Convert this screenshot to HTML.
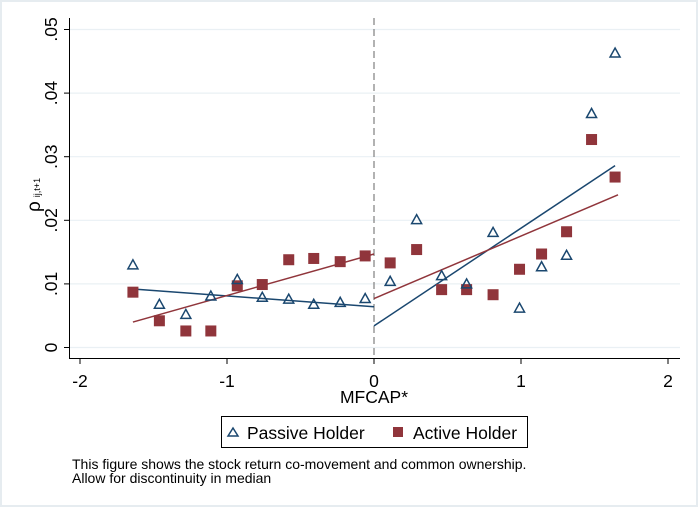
<!DOCTYPE html>
<html><head><meta charset="utf-8"><style>
body{margin:0;background:#fff;font-family:"Liberation Sans",sans-serif}
svg{display:block}
</style></head><body>
<svg id="chart" width="698" height="507" xmlns="http://www.w3.org/2000/svg" font-family="Liberation Sans, sans-serif">
<rect x="0.5" y="0.5" width="697" height="506" fill="#fff" stroke="#e6ecf0" stroke-width="3"/>
<g id="grid"></g>
<g id="axes"></g>
<g id="marks"></g>
<text x="374" y="403" text-anchor="middle" font-size="17.5" fill="#000">MFCAP*</text>
<g transform="translate(40,212) rotate(-90)">
<text x="0" y="0" font-size="19" fill="#000" text-anchor="start">ρ<tspan font-size="9" dx="4" dy="0">ij,t+1</tspan></text>
</g>
<g>
<rect x="221.5" y="416.5" width="306" height="31" fill="#fff" stroke="#000" stroke-width="1"/>
<g>
<path d="M228,436 L233,428 L238,436 Z" fill="none" stroke="#1a476f" stroke-width="1.5"/>
<text x="247" y="439" font-size="17.5">Passive Holder</text>
</g>
<g>
<rect x="393" y="427" width="10" height="10" fill="#90353b"/>
<text x="413" y="439" font-size="17.5">Active Holder</text>
</g>
</g>
<text x="72" y="469" font-size="14">This figure shows the stock return co-movement and common ownership.</text>
<text x="72" y="483" font-size="14">Allow for discontinuity in median</text>
</svg>
<script>
const xBins = [-1.64,-1.46,-1.28,-1.11,-0.93,-0.76,-0.58,-0.41,-0.23,-0.06,0.11,0.29,0.46,0.63,0.81,0.99,1.14,1.31,1.48,1.64];
const passiveValues = [0.0130,0.0068,0.0052,0.0081,0.0107,0.0079,0.0076,0.0068,0.0071,0.0077,0.0104,0.0201,0.0113,0.0100,0.0181,0.0062,0.0127,0.0145,0.0368,0.0463];
const activeValues = [0.0087,0.0042,0.0026,0.0026,0.0097,0.0099,0.0138,0.0140,0.0135,0.0144,0.0133,0.0154,0.0091,0.0091,0.0083,0.0123,0.0147,0.0182,0.0327,0.0268];
const passiveFitLeft = [[-1.64,0.0092],[0,0.0064]];
const passiveFitRight = [[0,0.0034],[1.64,0.0286]];
const activeFitLeft = [[-1.64,0.0040],[0,0.0147]];
const activeFitRight = [[0,0.0077],[1.66,0.0240]];
const xTicks = [-2,-1,0,1,2];
const xTickLabels = ["-2","-1","0","1","2"];
const yTicks = [0,0.01,0.02,0.03,0.04,0.05];
const yTickLabels = ["0",".01",".02",".03",".04",".05"];

const NS="http://www.w3.org/2000/svg";
const sx = v => 374 + v*147;
const sy = v => 347.5 - v*6360;
function mk(tag, attrs, parent){const e=document.createElementNS(NS,tag);for(const k in attrs)e.setAttribute(k,attrs[k]);parent.appendChild(e);return e;}
const grid=document.getElementById('grid'), axes=document.getElementById('axes'), marks=document.getElementById('marks');

yTicks.forEach((t,i)=>{
  const g=mk('line',{x1:70,x2:680,y1:sy(t),y2:sy(t),stroke:'#eaf0f4','stroke-width':1.2},grid);
  
  
  const tk=mk('line',{x1:64,x2:70,y1:sy(t),y2:sy(t),stroke:'#000'},axes);
  
  
  const tx=mk('text',{transform:`translate(57,${sy(t)}) rotate(-90)`,'text-anchor':'middle','font-size':17.5},axes);
  tx.textContent=yTickLabels[i];
  
  
});
xTicks.forEach((t,i)=>{
  const tk=mk('line',{x1:sx(t),x2:sx(t),y1:358.5,y2:364,stroke:'#000'},axes);
  
  
  const tx=mk('text',{x:sx(t),y:387,'text-anchor':'middle','font-size':17.5},axes);
  tx.textContent=xTickLabels[i];
  
  
});
const ya=mk('line',{x1:69.5,x2:69.5,y1:18,y2:359,stroke:'#000'},axes);


const xa=mk('line',{x1:69,x2:680,y1:358.5,y2:358.5,stroke:'#000'},axes);


const cut=mk('line',{x1:sx(0),x2:sx(0),y1:18,y2:358,stroke:'#888','stroke-width':1.3,'stroke-dasharray':'7,4'},axes);



function fit(seg,color,name){
  const l=mk('line',{x1:sx(seg[0][0]),y1:sy(seg[0][1]),x2:sx(seg[1][0]),y2:sy(seg[1][1]),stroke:color,'stroke-width':1.5},marks);
  
  
}
fit(passiveFitLeft,'#1a476f','passive-fit-left');
fit(passiveFitRight,'#1a476f','passive-fit-right');
fit(activeFitLeft,'#90353b','active-fit-left');
fit(activeFitRight,'#90353b','active-fit-right');

xBins.forEach((x,i)=>{
  const cx=sx(x), cy=sy(activeValues[i]);
  const r=mk('rect',{x:cx-5.5,y:cy-5.5,width:11,height:11,fill:'#90353b'},marks);
  
  
});
xBins.forEach((x,i)=>{
  const cx=sx(x), cy=sy(passiveValues[i]);
  const p=mk('path',{d:`M${cx-5},${cy+4} L${cx},${cy-5} L${cx+5},${cy+4} Z`,fill:'none',stroke:'#1a476f','stroke-width':1.5},marks);
  
  
});
</script>
</body></html>
